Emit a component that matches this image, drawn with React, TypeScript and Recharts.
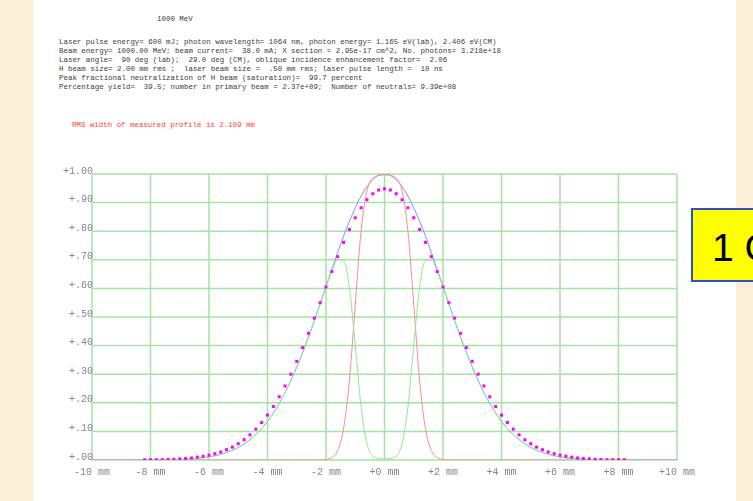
import React from "react";
import {
  ComposedChart,
  Line,
  Scatter,
  XAxis,
  YAxis,
  CartesianGrid,
} from "recharts";

// sample positions (mm) for the computed curves
const lineX = [
  -10, -9.5, -9, -8.5, -8, -7.5, -7, -6.5, -6, -5.5, -5, -4.5, -4, -3.5,
  -3, -2.8, -2.6, -2.4, -2.2, -2, -1.8, -1.6, -1.4, -1.2, -1, -0.8, -0.6, -0.4, -0.2,
  0,
  0.2, 0.4, 0.6, 0.8, 1, 1.2, 1.4, 1.6, 1.8, 2, 2.2, 2.4, 2.6, 2.8, 3,
  3.5, 4, 4.5, 5, 5.5, 6, 6.5, 7, 7.5, 8, 8.5, 9, 9.5, 10,
];

// H beam profile (blue)
const blueY = [
  0, 0, 0, 0, 0, 0.001, 0.002, 0.005, 0.011, 0.023, 0.044, 0.08, 0.135, 0.216,
  0.325, 0.375, 0.43, 0.487, 0.546, 0.607, 0.667, 0.726, 0.783, 0.835, 0.882, 0.923, 0.956, 0.98, 0.995,
  1.0,
  0.995, 0.98, 0.956, 0.923, 0.882, 0.835, 0.783, 0.726, 0.667, 0.607, 0.546, 0.487, 0.43, 0.375, 0.325,
  0.216, 0.135, 0.08, 0.044, 0.023, 0.011, 0.005, 0.002, 0.001, 0, 0, 0, 0, 0,
];

// neutralization fraction (red)
const redY = [
  0, 0, 0, 0, 0, 0, 0, 0, 0, 0, 0, 0, 0, 0,
  0, 0, 0, 0, 0, 0.002, 0.009, 0.034, 0.109, 0.278, 0.544, 0.801, 0.941, 0.985, 0.995,
  0.997,
  0.995, 0.985, 0.941, 0.801, 0.544, 0.278, 0.109, 0.034, 0.009, 0.002, 0, 0, 0, 0, 0,
  0, 0, 0, 0, 0, 0, 0, 0, 0, 0, 0, 0, 0, 0,
];

// remaining H beam (green)
const greenY = [
  0, 0, 0, 0, 0, 0.001, 0.002, 0.005, 0.011, 0.023, 0.044, 0.08, 0.135, 0.216,
  0.325, 0.375, 0.43, 0.487, 0.546, 0.605, 0.661, 0.701, 0.698, 0.603, 0.402, 0.184, 0.057, 0.014, 0.005,
  0.003,
  0.005, 0.014, 0.057, 0.184, 0.402, 0.603, 0.698, 0.701, 0.661, 0.605, 0.546, 0.487, 0.43, 0.375, 0.325,
  0.216, 0.135, 0.08, 0.044, 0.023, 0.011, 0.005, 0.002, 0.001, 0, 0, 0, 0, 0,
];

// measured profile (magenta dots)
const dotX = [
  -8.2, -8, -7.8, -7.6, -7.4, -7.2, -7, -6.8, -6.6, -6.4, -6.2, -6, -5.8, -5.6,
  -5.4, -5.2, -5, -4.8, -4.6, -4.4, -4.2, -4, -3.8, -3.6, -3.4, -3.2, -3, -2.8,
  -2.6, -2.4, -2.2, -2, -1.8, -1.6, -1.4, -1.2, -1, -0.8, -0.6, -0.4, -0.2,
  0,
  0.2, 0.4, 0.6, 0.8, 1, 1.2, 1.4, 1.6, 1.8, 2, 2.2, 2.4, 2.6, 2.8,
  3, 3.2, 3.4, 3.6, 3.8, 4, 4.2, 4.4, 4.6, 4.8, 5, 5.2, 5.4, 5.6,
  5.8, 6, 6.2, 6.4, 6.6, 6.8, 7, 7.2, 7.4, 7.6, 7.8, 8, 8.2,
];

const dotY = [
  0.001, 0.001, 0.001, 0.001, 0.002, 0.003, 0.004, 0.005, 0.007, 0.01, 0.013, 0.017, 0.022, 0.028,
  0.036, 0.045, 0.057, 0.071, 0.088, 0.108, 0.131, 0.157, 0.187, 0.221, 0.259, 0.3, 0.345, 0.393,
  0.443, 0.496, 0.55, 0.605, 0.659, 0.711, 0.761, 0.806, 0.847, 0.882, 0.91, 0.931, 0.944,
  0.948,
  0.944, 0.931, 0.91, 0.882, 0.847, 0.806, 0.761, 0.711, 0.659, 0.605, 0.55, 0.496, 0.443, 0.393,
  0.345, 0.3, 0.259, 0.221, 0.187, 0.157, 0.131, 0.108, 0.088, 0.071, 0.057, 0.045, 0.036, 0.028,
  0.022, 0.017, 0.013, 0.01, 0.007, 0.005, 0.004, 0.003, 0.002, 0.001, 0.001, 0.001, 0.001,
];

const xTicks = [-10, -8, -6, -4, -2, 0, 2, 4, 6, 8, 10];
const yTicks = [0, 0.1, 0.2, 0.3, 0.4, 0.5, 0.6, 0.7, 0.8, 0.9, 1.0];

const infoLines = [
  "Laser pulse energy= 600 mJ; photon wavelength= 1064 nm, photon energy= 1.165 eV(lab), 2.406 eV(CM)",
  "Beam energy= 1000.00 MeV; beam current=  38.0 mA; X section = 2.95e-17 cm^2, No. photons= 3.218e+18",
  "Laser angle=  90 deg (lab);  29.0 deg (CM), oblique incidence enhancement factor=  2.06",
  "H beam size= 2.00 mm rms ;  laser beam size =  .50 mm rms; laser pulse length =  10 ns",
  "Peak fractional neutralization of H beam (saturation)=  99.7 percent",
  "Percentage yield=  39.5; number in primary beam = 2.37e+09;  Number of neutrals= 9.39e+08",
];

const blueData = lineX.map((x, i) => ({ x, y: blueY[i] }));
const redData = lineX.map((x, i) => ({ x, y: redY[i] }));
const greenData = lineX.map((x, i) => ({ x, y: greenY[i] }));
const dotData = dotX.map((x, i) => ({ x, y: dotY[i] }));

const mono = "'Liberation Mono', 'DejaVu Sans Mono', monospace";

const fmtX = (v: number) => (v < 0 ? `${v} mm` : `+${v} mm`);
const fmtY = (v: number) =>
  v >= 1 ? "+1.00" : "+." + String(Math.round(v * 100)).padStart(2, "0");

function XTick(props: any) {
  const { x, y, payload } = props;
  return (
    <text x={x} y={y + 12} textAnchor="middle" dominantBaseline="central"
      fontFamily={mono} fontSize={10} fill="#858585">
      {fmtX(payload.value)}
    </text>
  );
}

function YTick(props: any) {
  const { x, y, payload } = props;
  return (
    <text x={x + 1} y={y - 3} textAnchor="end" dominantBaseline="central"
      fontFamily={mono} fontSize={10} fill="#858585">
      {fmtY(payload.value)}
    </text>
  );
}

const DotShape = (props: any) => (
  <rect x={props.cx - 1.5} y={props.cy - 1.5} width={3} height={3} fill="#ff00ff" />
);

export default function App() {
  return (
    <div style={{ position: "absolute", left: 0, top: 0, width: 753, height: 501,
      overflow: "hidden", background: "#fcefd8" }}>
      <div style={{ position: "absolute", left: 33, top: 0, width: 703, height: 501, background: "#fff" }} />

      <div style={{ position: "absolute", left: 157, top: 15, fontFamily: mono, fontSize: 7.45,
        lineHeight: "9px", color: "#3c3c3c", whiteSpace: "pre" }}>
        1000 MeV
      </div>
      <div style={{ position: "absolute", left: 59, top: 38.2, fontFamily: mono, fontSize: 7.45,
        lineHeight: "8.92px", color: "#3c3c3c", whiteSpace: "pre" }}>
        {infoLines.map((l) => <div key={l}>{l}</div>)}
      </div>
      <div style={{ position: "absolute", left: 72, top: 120.5, fontFamily: mono, fontSize: 7.45,
        lineHeight: "9px", color: "#ff3c3c", whiteSpace: "pre" }}>
        RMS width of measured profile is 2.109 mm
      </div>

      <div style={{ position: "absolute", left: 0, top: 0, willChange: "transform" }}>
        <ComposedChart width={753} height={501}
          margin={{ top: 174, right: 76, bottom: 0, left: 0 }}>
          <CartesianGrid stroke="#a6e2a6" strokeWidth={1.5} />
          <XAxis dataKey="x" type="number" domain={[-10, 10]} ticks={xTicks} interval={0}
            allowDataOverflow axisLine={false} tickLine={false} tickSize={0} tickMargin={0}
            height={41} tick={<XTick />} />
          <YAxis dataKey="y" type="number" domain={[0, 1]} ticks={yTicks} interval={0}
            allowDataOverflow axisLine={false} tickLine={false} tickSize={0} tickMargin={0}
            width={92} tick={<YTick />} />
          <Line data={blueData} dataKey="y" type="monotone" stroke="#8c8cff" strokeWidth={1}
            dot={false} isAnimationActive={false} />
          <Line data={redData} dataKey="y" type="monotone" stroke="#ff8a8a" strokeWidth={1}
            dot={false} isAnimationActive={false} />
          <Line data={greenData} dataKey="y" type="monotone" stroke="#8de88d" strokeWidth={1}
            dot={false} isAnimationActive={false} />
          <Scatter data={dotData} dataKey="y" shape={<DotShape />} isAnimationActive={false} />
        </ComposedChart>
      </div>

      <div style={{ position: "absolute", left: 691, top: 208, width: 90, height: 70,
        background: "#ffff00", border: "2px solid #2a4fd0" }}>
        <span style={{ position: "absolute", left: 19, top: 17.7, fontFamily: "'Liberation Sans', Arial, sans-serif",
          fontSize: 39, lineHeight: "39px", color: "#000", whiteSpace: "pre" }}>
          1 GeV
        </span>
      </div>
    </div>
  );
}
